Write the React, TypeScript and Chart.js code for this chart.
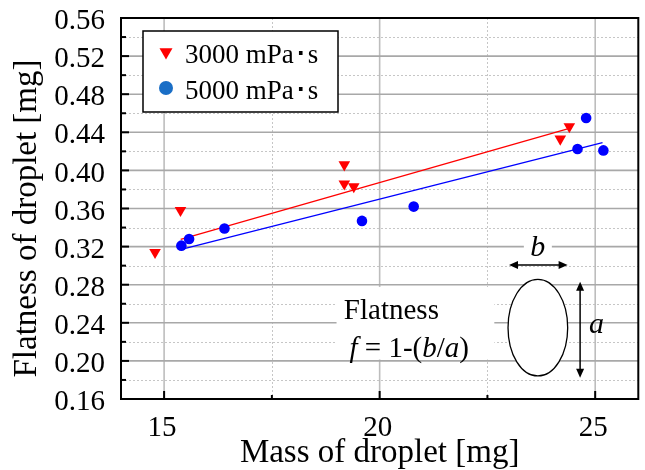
import React, { useEffect, useRef } from 'react';
import { Chart, registerables } from 'chart.js';

Chart.register(...registerables);

const redLabel = '3000 mPa･s';
const blueLabel = '5000 mPa･s';

const redX = [14.79, 15.38, 19.18, 19.18, 19.4, 24.19, 24.4];
const redY = [0.314, 0.358, 0.406, 0.386, 0.383, 0.433, 0.446];

const blueX = [15.4, 15.58, 16.4, 19.59, 20.79, 24.59, 24.79, 25.19];
const blueY = [0.321, 0.328, 0.339, 0.347, 0.362, 0.4225, 0.455, 0.421];

const redFitX = [15.385, 24.36];
const redFitY = [0.3277, 0.4435];
const blueFitX = [15.4, 25.17];
const blueFitY = [0.3172, 0.4291];

const xTicks = [15, 20, 25];
const xMinor = [17.5, 22.5];
const yTicks = [0.16, 0.2, 0.24, 0.28, 0.32, 0.36, 0.4, 0.44, 0.48, 0.52, 0.56];
const yMinor = [0.18, 0.22, 0.26, 0.3, 0.34, 0.38, 0.42, 0.46, 0.5, 0.54];

const xTitle = 'Mass of droplet [mg]';
const yTitle = 'Flatness of droplet [mg]';
const noteTitle = 'Flatness';

const SERIF = '"Liberation Serif", "Times New Roman", serif';

function arrow(ctx: CanvasRenderingContext2D, x1: number, y1: number, x2: number, y2: number) {
  const ang = Math.atan2(y2 - y1, x2 - x1);
  const hl = 9, hw = 4;
  ctx.beginPath();
  ctx.moveTo(x1 + Math.cos(ang) * 4, y1 + Math.sin(ang) * 4);
  ctx.lineTo(x2 - Math.cos(ang) * 4, y2 - Math.sin(ang) * 4);
  ctx.stroke();
  const head = (px: number, py: number, a: number) => {
    ctx.beginPath();
    ctx.moveTo(px, py);
    ctx.lineTo(px - Math.cos(a) * hl - Math.sin(a) * hw, py - Math.sin(a) * hl + Math.cos(a) * hw);
    ctx.lineTo(px - Math.cos(a) * hl + Math.sin(a) * hw, py - Math.sin(a) * hl - Math.cos(a) * hw);
    ctx.closePath();
    ctx.fill();
  };
  head(x2, y2, ang);
  head(x1, y1, ang + Math.PI);
}

const decor = {
  id: 'decor',
  beforeDatasetsDraw(chart: any) {
    const { ctx, chartArea: a, scales } = chart;
    const x = scales.x, y = scales.y;
    ctx.save();
    // minor dotted grid
    ctx.setLineDash([2, 2]);
    ctx.lineWidth = 1;
    ctx.strokeStyle = '#c6c6c6';
    for (const v of xMinor) {
      const p = Math.round(x.getPixelForValue(v)) + 0.5;
      ctx.beginPath(); ctx.moveTo(p, a.top); ctx.lineTo(p, a.bottom); ctx.stroke();
    }
    for (const v of yMinor) {
      const p = Math.round(y.getPixelForValue(v)) + 0.5;
      ctx.beginPath(); ctx.moveTo(a.left, p); ctx.lineTo(a.right, p); ctx.stroke();
    }
    ctx.setLineDash([]);
    // major solid grid
    ctx.lineWidth = 1.6;
    ctx.strokeStyle = '#bdbdbd';
    for (const v of xTicks) {
      const p = x.getPixelForValue(v);
      ctx.beginPath(); ctx.moveTo(p, a.top); ctx.lineTo(p, a.bottom); ctx.stroke();
    }
    ctx.strokeStyle = '#a8a8a8';
    for (const v of yTicks) {
      const p = y.getPixelForValue(v);
      if (p <= a.top + 1 || p >= a.bottom - 1) continue;
      ctx.beginPath(); ctx.moveTo(a.left, p); ctx.lineTo(a.right, p); ctx.stroke();
    }

    // annotation box
    const bx1 = x.getPixelForValue(19.0), bx2 = x.getPixelForValue(22.66);
    const by1 = y.getPixelForValue(0.2776), by2 = y.getPixelForValue(0.2015);
    ctx.fillStyle = '#ffffff';
    ctx.fillRect(bx1, by1, bx2 - bx1, by2 - by1);

    ctx.fillStyle = '#000';
    ctx.textAlign = 'left';
    ctx.textBaseline = 'alphabetic';
    ctx.font = `29px ${SERIF}`;
    ctx.fillText(noteTitle, x.getPixelForValue(19.17), y.getPixelForValue(0.2437));

    const segs: [string, boolean][] = [['f', true], [' = 1-(', false], ['b', true], ['/', false], ['a', true], [')', false]];
    let fx = x.getPixelForValue(19.3);
    const fy = y.getPixelForValue(0.2044);
    for (const [t, it] of segs) {
      ctx.font = `${it ? 'italic ' : ''}29px ${SERIF}`;
      ctx.fillText(t, fx, fy);
      fx += ctx.measureText(t).width;
    }

    // ellipse
    const cx = x.getPixelForValue(23.67), cy = y.getPixelForValue(0.2349);
    const rx = x.getPixelForValue(23.67 + 0.692) - cx;
    const ry = cy - y.getPixelForValue(0.2349 + 0.0507);
    ctx.beginPath();
    ctx.ellipse(cx, cy, rx, ry, 0, 0, Math.PI * 2);
    ctx.fillStyle = '#fff';
    ctx.fill();
    ctx.lineWidth = 1.3;
    ctx.strokeStyle = '#000';
    ctx.stroke();

    // b label background + text
    const bcx = x.getPixelForValue(23.67), bby = y.getPixelForValue(0.3104);
    ctx.fillStyle = '#fff';
    ctx.fillRect(bcx - 14, bby - 24, 28, 28);
    ctx.fillStyle = '#000';
    ctx.font = `italic 30px ${SERIF}`;
    ctx.textAlign = 'center';
    ctx.fillText('b', bcx, bby);
    ctx.fillText('a', x.getPixelForValue(25.03), y.getPixelForValue(0.229));

    ctx.lineWidth = 1.5;
    ctx.strokeStyle = '#000';
    ctx.fillStyle = '#000';
    const hy = y.getPixelForValue(0.3007);
    arrow(ctx, x.getPixelForValue(23.0), hy, x.getPixelForValue(24.36), hy);
    const vx = x.getPixelForValue(24.65);
    arrow(ctx, vx, y.getPixelForValue(0.2831), vx, y.getPixelForValue(0.1824));
    ctx.restore();
  },
  afterDatasetsDraw(chart: any) {
    const { ctx, chartArea: a, scales } = chart;
    const x = scales.x, y = scales.y;
    ctx.save();
    // frame
    ctx.strokeStyle = '#000';
    ctx.lineWidth = 2;
    ctx.strokeRect(a.left, a.top, a.right - a.left, a.bottom - a.top);
    // inward ticks
    ctx.lineWidth = 2;
    for (const v of yTicks) {
      const p = y.getPixelForValue(v);
      ctx.beginPath(); ctx.moveTo(a.left, p); ctx.lineTo(a.left + 8, p); ctx.stroke();
    }
    for (const v of yMinor) {
      const p = y.getPixelForValue(v);
      ctx.beginPath(); ctx.moveTo(a.left, p); ctx.lineTo(a.left + 5, p); ctx.stroke();
    }
    for (const v of xTicks) {
      const p = x.getPixelForValue(v);
      ctx.beginPath(); ctx.moveTo(p, a.bottom); ctx.lineTo(p, a.bottom - 8); ctx.stroke();
    }
    for (const v of xMinor) {
      const p = x.getPixelForValue(v);
      ctx.beginPath(); ctx.moveTo(p, a.bottom); ctx.lineTo(p, a.bottom - 4); ctx.stroke();
    }

    // legend
    const lx = a.left + 22, ly = a.top + 13, lw = 195, lh = 81;
    ctx.fillStyle = '#fff';
    ctx.fillRect(lx, ly, lw, lh);
    ctx.lineWidth = 1.5;
    ctx.strokeStyle = '#000';
    ctx.strokeRect(lx, ly, lw, lh);
    const ds = chart.data.datasets;
    const rows = [
      { label: ds[0].label, style: 'triangle', rot: 180, color: '#ff0000', r: 7.5 },
      { label: ds[1].label, style: 'circle', rot: 0, color: '#1a6ec6', r: 7 },
    ];
    ctx.font = `27px ${SERIF}`;
    ctx.textAlign = 'left';
    ctx.textBaseline = 'alphabetic';
    rows.forEach((row, i) => {
      const my = ly + 21 + i * 36;
      ctx.fillStyle = row.color;
      ctx.strokeStyle = row.color;
      ctx.lineWidth = 0;
      (Chart as any).helpers
        ? null
        : null;
      if (row.style === 'circle') {
        ctx.beginPath(); ctx.arc(lx + 23, my, row.r, 0, Math.PI * 2); ctx.fill();
      } else {
        ctx.beginPath();
        ctx.moveTo(lx + 23 - row.r * 0.866, my - row.r * 0.5);
        ctx.lineTo(lx + 23 + row.r * 0.866, my - row.r * 0.5);
        ctx.lineTo(lx + 23, my + row.r);
        ctx.closePath(); ctx.fill();
      }
      ctx.fillStyle = '#000';
      ctx.fillText(row.label, lx + 42, ly + 32 + i * 35.6);
    });

    // axis titles
    ctx.fillStyle = '#000';
    ctx.font = `33px ${SERIF}`;
    ctx.textAlign = 'center';
    ctx.fillText(xTitle, (a.left + a.right) / 2, 462);
    ctx.save();
    ctx.translate(36, (a.top + a.bottom) / 2 + 10);
    ctx.rotate(-Math.PI / 2);
    ctx.fillText(yTitle, 0, 0);
    ctx.restore();
    ctx.restore();
  },
};

export default function App() {
  const ref = useRef<HTMLCanvasElement | null>(null);
  useEffect(() => {
    const canvas = ref.current;
    if (!canvas) return;
    const tickFont = { family: SERIF, size: 29 };
    const chart = new Chart(canvas, {
      type: 'scatter',
      data: {
        datasets: [
          {
            label: redLabel,
            data: redX.map((v, i) => ({ x: v, y: redY[i] })),
            pointStyle: 'triangle',
            pointRotation: 180,
            pointRadius: 6.7,
            pointBackgroundColor: '#ff0000',
            pointBorderColor: '#ff0000',
            backgroundColor: '#ff0000',
            borderColor: '#ff0000',
            pointBorderWidth: 0,
            showLine: false,
          } as any,
          {
            label: blueLabel,
            data: blueX.map((v, i) => ({ x: v, y: blueY[i] })),
            pointStyle: 'circle',
            pointRadius: 5.3,
            pointBackgroundColor: '#0000ff',
            pointBorderColor: '#0000ff',
            backgroundColor: '#0000ff',
            borderColor: '#0000ff',
            pointBorderWidth: 0,
            showLine: false,
          } as any,
          {
            label: 'fit 3000',
            data: redFitX.map((v, i) => ({ x: v, y: redFitY[i] })),
            showLine: true,
            pointRadius: 0,
            borderColor: '#ff0000',
            borderWidth: 1.3,
            fill: false,
          } as any,
          {
            label: 'fit 5000',
            data: blueFitX.map((v, i) => ({ x: v, y: blueFitY[i] })),
            showLine: true,
            pointRadius: 0,
            borderColor: '#0000ff',
            borderWidth: 1.3,
            fill: false,
          } as any,
        ],
      },
      options: {
        responsive: false,
        animation: false,
        devicePixelRatio: 1,
        layout: { padding: { top: 18, right: 4, left: 0, bottom: 0 } },
        plugins: { legend: { display: false }, tooltip: { enabled: false } },
        scales: {
          x: {
            type: 'linear',
            min: 14,
            max: 26,
            grid: { display: false },
            border: { display: false },
            afterBuildTicks: (s: any) => { s.ticks = xTicks.map((v) => ({ value: v })); },
            afterFit: (s: any) => { s.height = 71; s.paddingLeft = 0; s.paddingRight = 0; },
            ticks: {
              font: tickFont, color: '#000', padding: 4, maxRotation: 0, autoSkip: false,
              labelOffset: -2,
              callback: (v: any) => String(v),
            },
          },
          y: {
            type: 'linear',
            min: 0.16,
            max: 0.56,
            grid: { display: false },
            border: { display: false },
            afterBuildTicks: (s: any) => { s.ticks = yTicks.map((v) => ({ value: v })); },
            afterFit: (s: any) => { s.width = 121; s.paddingTop = 0; s.paddingBottom = 0; },
            ticks: {
              font: tickFont, color: '#000', padding: 8, autoSkip: false,
              labelOffset: 3.5,
              callback: (v: any) => Number(v).toFixed(2),
            },
          },
        },
      } as any,
      plugins: [decor],
    });
    return () => chart.destroy();
  }, []);
  return (
    <div style={{ position: 'fixed', left: 0, top: 0, width: 645, height: 470, background: '#fff' }}>
      <canvas ref={ref} width={645} height={470} style={{ width: 645, height: 470, display: 'block' }} />
    </div>
  );
}
